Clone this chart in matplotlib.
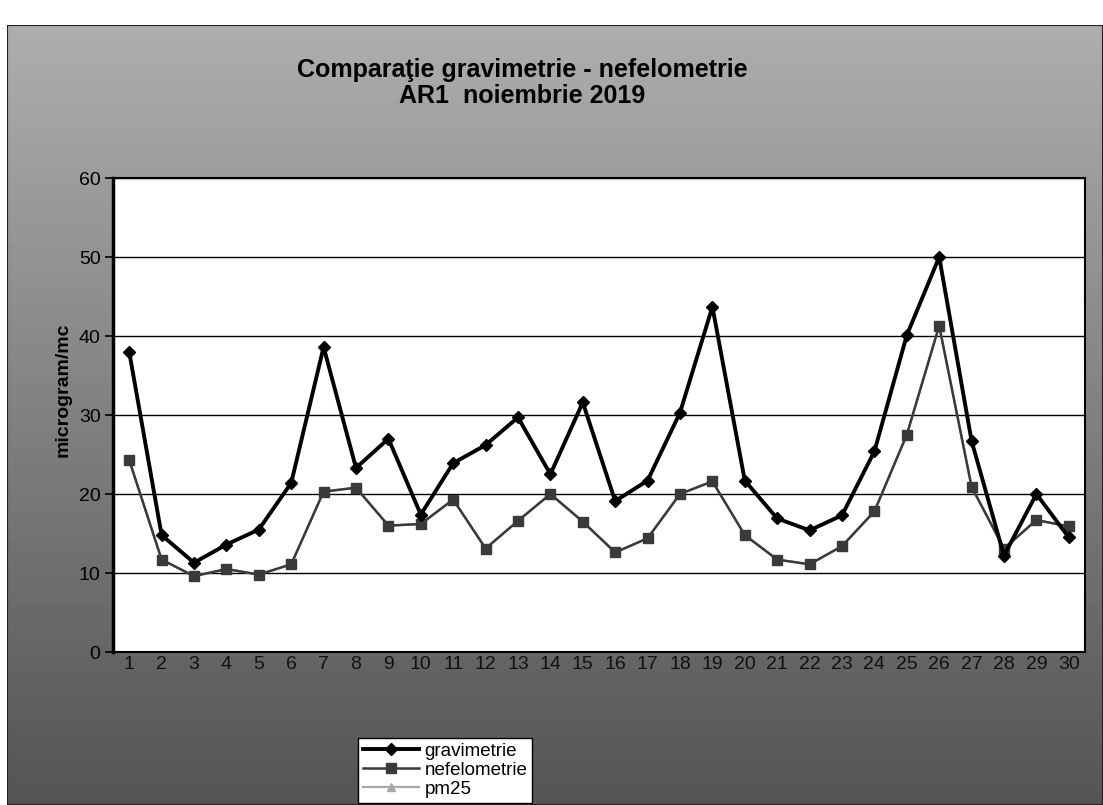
import numpy as np
import matplotlib
matplotlib.use("Agg")
import matplotlib.pyplot as plt

plt.rcParams['font.family'] = ['Liberation Sans', 'DejaVu Sans']

days = [str(d) for d in range(1, 31)]
gravimetrie = [38.0, 14.8, 11.3, 13.6, 15.5, 21.4, 38.6, 23.3, 27.0, 17.4,
               23.9, 26.2, 29.7, 22.5, 31.6, 19.1, 21.7, 30.3, 43.7, 21.7,
               16.9, 15.4, 17.3, 25.4, 40.1, 50.0, 26.7, 12.2, 20.0, 14.5]
nefelometrie = [24.3, 11.7, 9.6, 10.5, 9.8, 11.1, 20.3, 20.8, 16.0, 16.2,
                19.3, 13.1, 16.6, 20.0, 16.5, 12.6, 14.4, 20.0, 21.6, 14.8,
                11.7, 11.1, 13.4, 17.8, 27.5, 41.3, 20.9, 13.1, 16.7, 15.9]
pm25 = [24.3, 11.7, 9.6, 10.5, 9.8, 11.1, 20.3, 20.8, 16.0, 16.2,
        19.3, 13.1, 16.6, 20.0, 16.5, 12.6, 14.4, 20.0, 21.6, 14.8,
        11.7, 11.1, 13.4, 17.8, 27.5, 41.3, 20.9, 13.1, 16.7, 15.9]
yticks = [0, 10, 20, 30, 40, 50, 60]

W, H = 1103, 805
fig = plt.figure(figsize=(W / 100, H / 100), dpi=100, facecolor='white')

# chart area background (gradient gray)
bg = fig.add_axes([7 / W, 0, 1 - 7 / W, (H - 25) / H], zorder=0)
grad = np.linspace(0.68, 0.33, 256).reshape(-1, 1)
bg.imshow(grad, aspect='auto', cmap='gray', vmin=0, vmax=1, extent=[0, 1, 0, 1])
bg.set_axis_off()
bg.add_patch(plt.Rectangle((0, 0), 1, 1, fill=False, edgecolor='#222222',
                           lw=1.5, transform=bg.transAxes))

left, right, top, bottom = 113, 1085, 178, 652
ax = fig.add_axes([left / W, (H - bottom) / H, (right - left) / W, (bottom - top) / H], zorder=1)
ax.set_facecolor('white')

x = np.arange(len(days))
ax.plot(x, pm25, color='#a8a8a8', lw=1.6, marker='^', ms=6, zorder=2, label='pm25')
ax.plot(x, nefelometrie, color='#3a3a3a', lw=1.8, marker='s', ms=6.5, zorder=3, label='nefelometrie')
ax.plot(x, gravimetrie, color='black', lw=2.8, marker='D', ms=6, zorder=4, label='gravimetrie')

ax.set_xlim(-0.5, len(days) - 0.5)
ax.set_ylim(0, 60)
ax.set_yticks(yticks)
ax.set_yticklabels([str(v) for v in yticks], fontsize=14)
ax.set_xticks(x)
ax.set_xticklabels(days, fontsize=14, color='#111111')
ax.tick_params(axis='y', direction='out', length=6, width=1.2, pad=3)
ax.tick_params(axis='x', length=0, pad=3)
ax.yaxis.grid(True, color='black', lw=1.0)
ax.set_axisbelow(True)
for s in ax.spines.values():
    s.set_color('black')
    s.set_linewidth(1.5)
ax.spines['left'].set_linewidth(2.5)

ax.set_ylabel('microgram/mc', fontsize=14, fontweight='bold')
ax.yaxis.set_label_coords((72 - left) / (right - left), (bottom - 390) / (bottom - top))

fig.text(522 / W, 1 - 70 / H, 'Comparaţie gravimetrie - nefelometrie', ha='center', va='center',
         fontsize=18, fontweight='bold')
fig.text(522 / W, 1 - 96 / H, 'AR1  noiembrie 2019', ha='center', va='center',
         fontsize=18, fontweight='bold')

handles, labels = ax.get_legend_handles_labels()
order = [2, 1, 0]
leg = fig.legend([handles[i] for i in order], [labels[i] for i in order],
                 loc='upper left', bbox_to_anchor=(358 / W, 1 - 738 / H),
                 borderaxespad=0, fontsize=13.5, frameon=True, fancybox=False,
                 framealpha=1, edgecolor='black', handlelength=3.0, handletextpad=0.3,
                 labelspacing=0.1, borderpad=0.25)
leg.get_frame().set_linewidth(1.0)

fig.savefig('out.png', dpi=100, facecolor='white')
